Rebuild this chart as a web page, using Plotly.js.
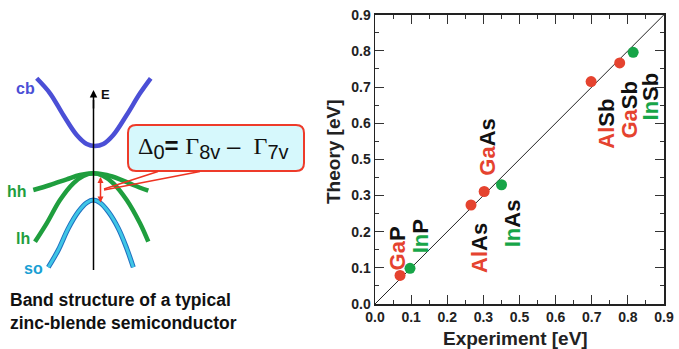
<!DOCTYPE html>
<html><head><meta charset="utf-8">
<script src="https://cdn.plot.ly/plotly-3.0.1.min.js"></script>
<style>html,body{margin:0;padding:0;background:#fff}#chart{width:679px;height:349px}</style>
</head><body><div id="chart"></div>
<script>
// ---- scatter data (spin-orbit splitting, eV) ----
const compounds  = ['GaP','InP','AlAs','GaAs','InAs','AlSb','GaSb','InSb'];
const cation     = ['Ga','In','Al','Ga','In','Al','Ga','In'];
const anion      = ['P','P','As','As','As','Sb','Sb','Sb'];
const experiment = [0.078,0.109,0.299,0.340,0.394,0.673,0.762,0.804];
const theory     = [0.089,0.111,0.308,0.350,0.371,0.692,0.750,0.783];
const diagonal   = [0, 0.9];
const xTickText  = ['0.0','0.1','0.2','0.3','0.5','0.6','0.7','0.8','0.9'];
const yTickText  = ['0.0','0.1','0.2','0.3','0.5','0.6','0.7','0.8','0.9'];

// ---- schematic band curves (pixel units) ----
const cbX = [36.7,50,63.3,76.7,86.7,95,103.3,113.3,126.7,140,150.7];
const cbY = [78.3,93.3,115,135,144,146,144,135,115,93.3,78.3];
const hhX = [33.3,50,66.7,80,93.3,106.7,120,133.3,148.3];
const hhY = [190,185,179.3,175,173.3,175,179.3,185,190.7];
const lhX = [35,46.7,60,73.3,83.3,93.3,103.3,113.3,126.7,140,148.3];
const lhY = [241.7,223.3,200,183.3,176,173.3,176,183.3,200,223.3,241.7];
const soX = [48.3,58.3,68.3,78.3,86.7,93.3,100,108.3,118.3,126.7,133.3];
const soY = [267.3,250,228.3,211.7,202.7,200,202.7,211.7,228.3,248.3,267.3];
const eAxisX = [93.5,93.5];
const eAxisY = [270,100];

// ---- styles ----
const RED = '#e5432f', GREEN = '#17a548', BLUE = '#4b4fd6', BANDGREEN = '#1f9e3e';
const colorOf = {Ga: RED, Al: RED, In: GREEN};
const labelShift = [[-3,27],[10,32],[8,-43],[3,44],[11,-39],[15,-42],[10,-47],[17,-44]];
const SANS = 'Liberation Sans, Arial, sans-serif';
const SERIF = 'Liberation Serif, Times New Roman, serif';

const W = 679, H = 349;
const px0 = 375, px1 = 664, py0 = 14.7, py1 = 304;
const FULL = 0.9;
const nInt = xTickText.length - 1;
const step = FULL / nInt;
const fmt = v => v.toFixed(4);
const xAlias = {}, yAlias = {};
xTickText.forEach((t, i) => { xAlias[fmt(i * step)] = t; });
yTickText.forEach((t, i) => { yAlias[fmt(i * step)] = t; });

function bandTrace(x, y, color, width) {
  return {x, y, xaxis: 'x2', yaxis: 'y2', mode: 'lines', type: 'scatter',
          line: {color, width, shape: 'spline', smoothing: 1}, hoverinfo: 'skip'};
}

const traces = [
  bandTrace(cbX, cbY, BLUE, 4.5),
  bandTrace(hhX, hhY, BANDGREEN, 4.5),
  bandTrace(lhX, lhY, BANDGREEN, 4.5),
  bandTrace(soX, soY, '#1f6fc0', 5),
  bandTrace(soX, soY, '#3fc6e6', 3),
  {x: eAxisX, y: eAxisY, xaxis: 'x2', yaxis: 'y2', mode: 'lines', type: 'scatter',
   line: {color: '#000', width: 1.5}, hoverinfo: 'skip'},
  {x: diagonal, y: diagonal, mode: 'lines', type: 'scatter',
   line: {color: '#222', width: 1}, hoverinfo: 'skip'},
  {x: experiment, y: theory, mode: 'markers', type: 'scatter',
   marker: {size: 11, color: cation.map(c => colorOf[c])}, hoverinfo: 'skip'}
];

const annotations = compounds.map((c, i) => ({
  x: experiment[i], y: theory[i], xref: 'x', yref: 'y',
  xshift: labelShift[i][0], yshift: labelShift[i][1],
  xanchor: 'center', yanchor: 'middle',
  text: `<span style="color:${colorOf[cation[i]]}">${cation[i]}</span>${anion[i]}`,
  textangle: -90, showarrow: false,
  font: {family: SANS, size: 22, color: '#111', weight: 'bold'}
}));

// axis titles
annotations.push({xref: 'paper', yref: 'paper', x: 515 / W, y: 1 - 338 / H,
  xanchor: 'center', yanchor: 'middle',
  text: 'Experiment [eV]', showarrow: false,
  font: {family: SANS, size: 19, color: '#222', weight: 'bold'}});
annotations.push({xref: 'paper', yref: 'paper', x: 333 / W, y: 1 - 152 / H,
  xanchor: 'center', yanchor: 'middle',
  text: 'Theory [eV]', textangle: -90, showarrow: false,
  font: {family: SANS, size: 19, color: '#222', weight: 'bold'}});

// band labels
const bandLabel = (t, x, y, color, size) => ({xref: 'x2', yref: 'y2', x, y, text: t,
  xanchor: 'center', yanchor: 'middle',
  showarrow: false, font: {family: SANS, size, color, weight: 'bold'}});
annotations.push(bandLabel('cb', 25.5, 88, BLUE, 16));
annotations.push(bandLabel('hh', 17, 191, BANDGREEN, 16));
annotations.push(bandLabel('lh', 23, 238, BANDGREEN, 16));
annotations.push(bandLabel('so', 33, 268, '#1a9fd4', 16));
annotations.push(bandLabel('E', 105, 94, '#111', 13));

// E axis arrow head
annotations.push({xref: 'x2', yref: 'y2', axref: 'x2', ayref: 'y2',
  x: 93.5, y: 90, ax: 93.5, ay: 110, text: '', showarrow: true,
  arrowhead: 2, arrowsize: 1, arrowwidth: 1.5, arrowcolor: '#000'});
// red double arrow
annotations.push({xref: 'x2', yref: 'y2', axref: 'x2', ayref: 'y2',
  x: 100.5, y: 177, ax: 100.5, ay: 204, text: '', showarrow: true,
  arrowhead: 2, startarrowhead: 2, arrowside: 'end+start', arrowsize: 0.8,
  arrowwidth: 1.5, arrowcolor: '#ee3322'});
// formula
const sub = t => `<sub><span style="font-size:20px">${t}</span></sub>`;
annotations.push({xref: 'x2', yref: 'y2', x: 213, y: 147, showarrow: false,
  xanchor: 'center', yanchor: 'middle',
  text: `<span style="font-family:${SERIF}">Δ</span>${sub('0')}<b>=</b> <span style="font-family:${SERIF}">Γ</span>${sub('8v')} –  <span style="font-family:${SERIF}">Γ</span>${sub('7v')}`,
  font: {family: SANS, size: 24, color: '#111'}});
// caption
annotations.push({xref: 'paper', yref: 'paper', x: 8 / W, y: 1 - 311.5 / H,
  xanchor: 'left', yanchor: 'middle', align: 'left', showarrow: false,
  text: 'Band structure of a typical<br>zinc-blende semiconductor',
  font: {family: SANS, size: 17.5, color: '#111', weight: 'bold'}});

const shapes = [
  {type: 'path', xref: 'x2', yref: 'y2', layer: 'above',
   path: 'M136,125 L296,125 Q304,125 304,133 L304,163 Q304,171 296,171 L136,171 Q128,171 128,163 L128,133 Q128,125 136,125 Z',
   fillcolor: '#d6f8fc', line: {color: '#ee3b2a', width: 2}},
  {type: 'line', xref: 'x2', yref: 'y2', layer: 'above', x0: 104, y0: 189, x1: 158, y1: 171.5,
   line: {color: '#ee3322', width: 1.5}},
  {type: 'line', xref: 'x2', yref: 'y2', layer: 'above', x0: 104, y0: 190, x1: 200, y1: 171.5,
   line: {color: '#ee3322', width: 1.5}}
];

const axisCommon = {
  range: [0, FULL], tickmode: 'linear', tick0: 0, dtick: step, tickformat: '.4f',
  ticks: 'inside', ticklen: 9, tickwidth: 1, tickcolor: '#333',
  showline: true, linecolor: '#222', linewidth: 1.5, mirror: 'ticks',
  showgrid: false, zeroline: false, automargin: false, fixedrange: true,
  tickfont: {family: SANS, size: 14, color: '#222', weight: 'bold'},
  minor: {tickmode: 'linear', tick0: 0, dtick: step / 2, ticks: 'inside', ticklen: 4,
          tickwidth: 1, tickcolor: '#333', showgrid: false}
};

const layout = {
  width: W, height: H, margin: {l: 0, r: 0, t: 0, b: 0},
  paper_bgcolor: '#fff', plot_bgcolor: 'rgba(0,0,0,0)', showlegend: false,
  xaxis: Object.assign({}, axisCommon, {domain: [px0 / W, px1 / W], labelalias: xAlias, anchor: 'y'}),
  yaxis: Object.assign({}, axisCommon, {domain: [1 - py1 / H, 1 - py0 / H], labelalias: yAlias, anchor: 'x'}),
  xaxis2: {domain: [0, 320 / W], range: [0, 320], visible: false, anchor: 'y2', fixedrange: true},
  yaxis2: {domain: [0, 1], range: [H, 0], visible: false, anchor: 'x2', fixedrange: true},
  annotations, shapes
};

Plotly.newPlot('chart', traces, layout, {staticPlot: true, displayModeBar: false});
</script></body></html>
